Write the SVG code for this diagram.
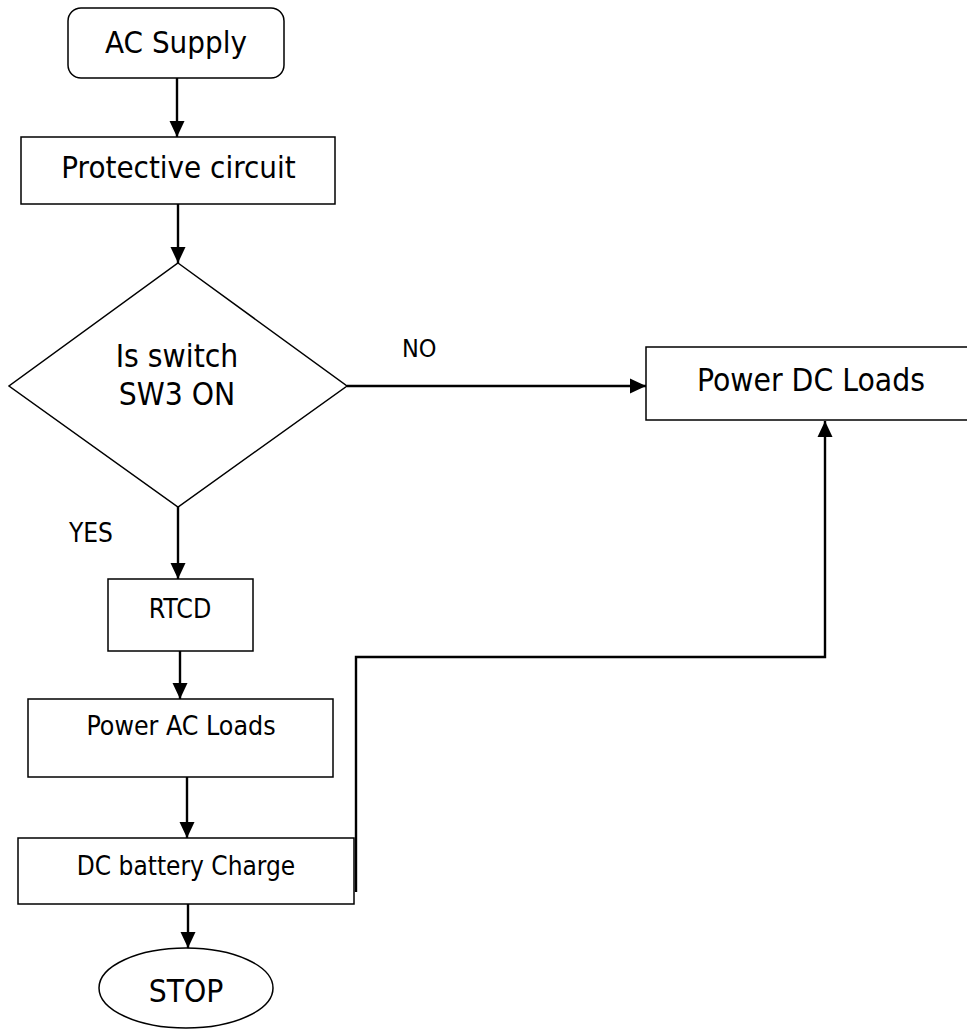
<svg xmlns="http://www.w3.org/2000/svg" width="967" height="1030" viewBox="0 0 967 1030">
<style>
.box{fill:#fff;stroke:#000;stroke-width:1.5}
.t{font-family:"DejaVu Sans Condensed","DejaVu Sans",sans-serif;fill:#000;text-anchor:middle}
.c{fill:none;stroke:#000;stroke-width:2.4}
</style>
<defs>
<marker id="ah" markerUnits="userSpaceOnUse" markerWidth="16" markerHeight="16" viewBox="0 0 16 16" refX="16" refY="8" orient="auto">
<path d="M0,0.5 L16,8 L0,15.5 Z" fill="#000"/>
</marker>
</defs>
<rect width="967" height="1030" fill="#fff"/>
<g id="connectors">
<line class="c" x1="177" y1="78" x2="177" y2="137" marker-end="url(#ah)"/>
<line class="c" x1="178" y1="204" x2="178" y2="263" marker-end="url(#ah)"/>
<line class="c" x1="347" y1="386" x2="646" y2="386" marker-end="url(#ah)"/>
<line class="c" x1="178" y1="507" x2="178" y2="579" marker-end="url(#ah)"/>
<line class="c" x1="180" y1="651" x2="180" y2="699" marker-end="url(#ah)"/>
<line class="c" x1="187" y1="777" x2="187" y2="838" marker-end="url(#ah)"/>
<line class="c" x1="188" y1="904" x2="188" y2="948" marker-end="url(#ah)"/>
<polyline class="c" points="356,892 356,657 825,657 825,421" marker-end="url(#ah)"/>
<text class="t" x="402" y="357" font-size="25" style="text-anchor:start">NO</text>
<text class="t" x="69" y="542" font-size="26" style="text-anchor:start">YES</text>
</g>
<g id="ac-supply">
<rect class="box" x="68" y="8" width="216" height="70" rx="13"/>
<text class="t" x="176" y="53" font-size="31">AC Supply</text>
</g>
<g id="protective-circuit">
<rect class="box" x="21" y="137" width="314" height="67"/>
<text class="t" x="178.5" y="178" font-size="31">Protective circuit</text>
</g>
<g id="decision">
<polygon class="box" points="178,263 347,386 178,507 9,386"/>
<text class="t" x="177" y="367" font-size="31.5">Is switch</text>
<text class="t" x="177" y="405" font-size="31.5">SW3 ON</text>
</g>
<g id="power-dc">
<rect class="box" x="646" y="347" width="330" height="73"/>
<text class="t" x="811" y="391" font-size="31.5">Power DC Loads</text>
</g>
<g id="rtcd">
<rect class="box" x="108" y="579" width="145" height="72"/>
<text class="t" x="180" y="618" font-size="26.5">RTCD</text>
</g>
<g id="power-ac">
<rect class="box" x="28" y="699" width="305" height="78"/>
<text class="t" x="181" y="735" font-size="26.5">Power AC Loads</text>
</g>
<g id="dc-battery">
<rect class="box" x="18" y="838" width="336" height="66"/>
<text class="t" x="186" y="875" font-size="26">DC battery Charge</text>
</g>
<g id="stop">
<ellipse class="box" cx="186" cy="988" rx="87" ry="40"/>
<text class="t" x="186" y="1002" font-size="31.5">STOP</text>
</g>
</svg>
